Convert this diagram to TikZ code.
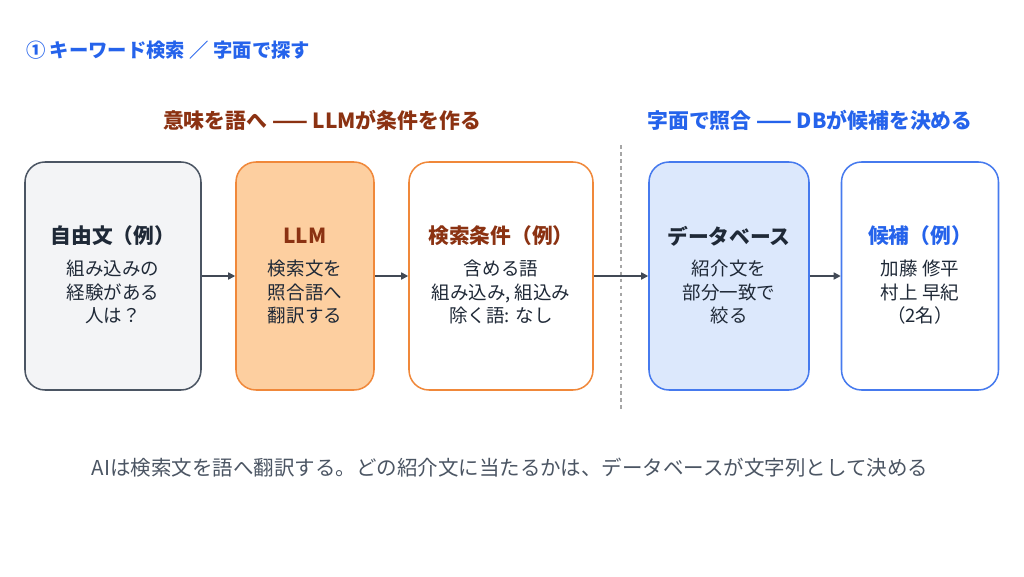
\documentclass[tikz,border=0pt]{standalone}
\usepackage{fontspec}
\setmainfont{Noto Sans CJK JP}
\usetikzlibrary{arrows.meta}
\definecolor{dk}{HTML}{1F2937}
\definecolor{gy}{HTML}{4B5563}
\definecolor{br}{HTML}{8B3212}
\definecolor{bl}{HTML}{2563EB}
\definecolor{or}{HTML}{F0883A}
\definecolor{orf}{HTML}{FDCFA0}
\definecolor{blf}{HTML}{DCE8FC}
\definecolor{gyf}{HTML}{F3F4F6}
\begin{document}
\begin{tikzpicture}[x=0.03cm,y=-0.03cm,
 box/.style={rounded corners=0.6cm,line width=1.3pt,minimum height=228*0.03cm,inner sep=0pt},
 ttl/.style={font=\fontsize{17.7}{20}\selectfont\bfseries},
 bod/.style={font=\fontsize{15.8}{20}\selectfont,text=dk,align=center},
 arr/.style={-{Triangle[length=6pt,width=6pt]},line width=1.3pt,draw=dk!85}]
\useasboundingbox (0,0) rectangle (1024,576);
\node[anchor=west,text=bl,font=\fontsize{16.5}{18}\selectfont\bfseries] (t) at (22,50) {① キーワード検索 ／ 字面で探す};
\node[text=br,font=\fontsize{17.8}{20}\selectfont\bfseries] (h1) at (322,120) {意味を語へ —— LLMが条件を作る};
\node[text=bl,font=\fontsize{17.8}{20}\selectfont\bfseries] (h2) at (810,120) {字面で照合 —— DBが候補を決める};
\node[box,draw=gy,fill=gyf,minimum width=176*0.03cm] (b1) at (113,276) {};
\node[box,draw=or,fill=orf,minimum width=138*0.03cm] (b2) at (305,276) {};
\node[box,draw=or,fill=white,minimum width=184*0.03cm] (b3) at (501,276) {};
\node[box,draw=bl!85,fill=blf,minimum width=160*0.03cm] (b4) at (729,276) {};
\node[box,draw=bl!85,fill=white,minimum width=157*0.03cm] (b5) at (920,276) {};
\draw[dashed,gray!70,line width=1pt] (621,145) coordinate (d1) -- (621,410) coordinate (d2);
\foreach \b/\x/\c/\t in {b1/113/dk/自由文（例）,b2/305/br/LLM,b3/501/br/検索条件（例）,b4/729/dk/データベース,b5/920/bl/候補（例）}
  \node[ttl,text=\c] (\b t) at (\x,236) {\t};
\node[bod,anchor=north] (b1x) at (113,256) {組み込みの\\経験がある\\人は？};
\node[bod,anchor=north] (b2x) at (305,256) {検索文を\\照合語へ\\翻訳する};
\node[bod,anchor=north] (b3x) at (501,256) {含める語\\組み込み, 組込み\\除く語: なし};
\node[bod,anchor=north] (b4x) at (729,256) {紹介文を\\部分一致で\\絞る};
\node[bod,anchor=north] (b5x) at (920,256) {加藤 修平\\村上 早紀\\（2名）};
\draw[arr] (b1.east|-0,276) -- (b2.west|-0,276);
\draw[arr] (b2.east|-0,276) -- (b3.west|-0,276);
\draw[arr] (b3.east|-0,276) -- (b4.west|-0,276);
\draw[arr] (b4.east|-0,276) -- (b5.west|-0,276);
\node[text=gy,font=\fontsize{17.5}{20}\selectfont] (cap) at (510,468) {AIは検索文を語へ翻訳する。どの紹介文に当たるかは、データベースが文字列として決める};
\end{tikzpicture}
\end{document}
